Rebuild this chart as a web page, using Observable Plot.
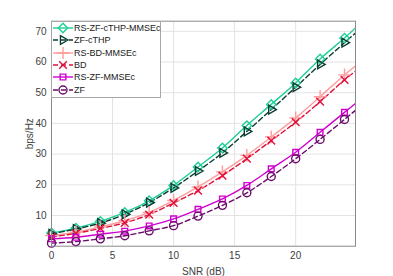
<!DOCTYPE html>
<html>
<head>
<meta charset="utf-8">
<script src="https://cdn.jsdelivr.net/npm/d3@7"></script>
<script src="https://cdn.jsdelivr.net/npm/@observablehq/plot@0.6"></script>
<style>
  html, body { margin: 0; padding: 0; background: #fff; }
  #wrap { position: relative; width: 393px; height: 276px; font-family: "Liberation Sans", Arial, sans-serif; }
  #legend { position: absolute; left: 51px; top: 20.5px; width: 110px; background: #fff; border: 1px solid #a8a8a8; box-sizing: border-box; padding: 0.5px 0 1px 0; }
  .row { display: flex; align-items: center; height: 12.3px; font-size: 9px; color: #1a1a1a; white-space: nowrap; }
  .row svg { flex: none; margin-right: 0px; }
</style>
</head>
<body>
<div id="wrap"></div>
<script>
// ---- data ----
const snr = [0, 2, 4, 6, 8, 10, 12, 14, 16, 18, 20, 22, 24, 25];
const rsZfCthpMmsec = [4.3, 5.9, 8.1, 11.0, 14.8, 19.8, 25.8, 32.0, 39.3, 46.2, 53.2, 61.0, 67.8, 71.5];
const zfCthp        = [4.0, 5.6, 7.5, 10.4, 14.2, 19.0, 24.5, 30.4, 37.4, 44.5, 51.8, 59.2, 66.3, 69.8];
const rsBdMmsec     = [3.5, 4.6, 6.3, 8.3, 11.0, 14.9, 19.3, 24.2, 29.6, 35.6, 41.8, 48.7, 55.8, 59.0];
const bd            = [3.0, 4.2, 5.8, 7.6, 10.3, 14.1, 18.1, 23.0, 28.5, 34.4, 40.4, 47.1, 54.2, 57.3];
const rsZfMmsec     = [2.4, 2.9, 3.9, 4.9, 6.6, 8.9, 12.0, 15.4, 19.8, 25.2, 30.6, 37.1, 43.6, 46.8];
const zf            = [1.0, 1.5, 2.4, 3.4, 5.0, 6.7, 9.8, 13.3, 17.4, 22.7, 28.5, 34.8, 41.3, 44.6];
const xTicks = [0, 5, 10, 15, 20];
const yTicks = [10, 20, 30, 40, 50, 60, 70];

const series = [
  {name: "RS-ZF-cTHP-MMSEc", values: rsZfCthpMmsec, color: "#1dcf95", dash: null, symbol: "diamond2", r: 4.2, rotate: 0},
  {name: "ZF-cTHP", values: zfCthp, color: "#0b3b32", dash: "5,3", symbol: "triangle2", r: 4.2, rotate: 90},
  {name: "RS-BD-MMSEc", values: rsBdMmsec, color: "#ff9c9c", dash: null, symbol: "plus", r: 4.2, rotate: 0},
  {name: "BD", values: bd, color: "#e0103c", dash: "5,3", symbol: "times", r: 3.6, rotate: 0},
  {name: "RS-ZF-MMSEc", values: rsZfMmsec, color: "#d000d0", dash: null, symbol: "square2", r: 3.6, rotate: 0},
  {name: "ZF", values: zf, color: "#6a0d6a", dash: "5,3", symbol: "circle", r: 4.0, rotate: 0}
];

const rows = series.map(s => snr.map((x, i) => ({x, y: s.values[i], s})));

const marks = [
  Plot.gridX(xTicks, {stroke: "#e3e3e3", strokeOpacity: 1}),
  Plot.gridY(yTicks, {stroke: "#e3e3e3", strokeOpacity: 1}),
  Plot.axisX(xTicks, {tickSize: 0, tickPadding: 6, fontSize: 10, color: "#404040", label: "SNR (dB)", labelAnchor: "center", labelArrow: "none", labelOffset: 29}),
  Plot.axisY(yTicks, {tickSize: 0, tickPadding: 5, fontSize: 10, color: "#404040", label: "bps/Hz", labelAnchor: "center", labelArrow: "none", labelOffset: 26}),
];
rows.forEach(data => {
  const s = data[0].s;
  marks.push(Plot.line(data, {x: "x", y: "y", stroke: s.color, strokeWidth: 1.4, strokeDasharray: s.dash, curve: "catmull-rom", clip: true}));
});
rows.forEach(data => {
  const s = data[0].s;
  marks.push(Plot.dot(data.filter(d => d.x <= 24), {x: "x", y: "y", symbol: () => s.symbol, stroke: s.color, fill: "none", strokeWidth: 1.4, r: s.r, rotate: s.rotate}));
});
marks.push(Plot.frame({stroke: "#8a8a8a", strokeWidth: 1}));

const chart = Plot.plot({
  width: 393,
  height: 276,
  marginLeft: 51,
  marginRight: 38,
  marginTop: 20.7,
  marginBottom: 30.3,
  style: {fontFamily: "Liberation Sans, Arial, sans-serif", background: "#fff"},
  x: {domain: [0, 24.9]},
  y: {domain: [0, 73.3]},
  symbol: {type: "identity"},
  marks
});
const wrap = document.getElementById("wrap");
wrap.appendChild(chart);

// ---- legend (HTML overlay) ----
const legend = document.createElement("div");
legend.id = "legend";
series.forEach(s => {
  const row = document.createElement("div");
  row.className = "row";
  const svg = d3.create("svg").attr("width", 22).attr("height", 12);
  svg.append("line").attr("x1", 1).attr("x2", 21).attr("y1", 6).attr("y2", 6)
    .attr("stroke", s.color).attr("stroke-width", 1.4).attr("stroke-dasharray", s.dash);
  const symMap = {diamond2: d3.symbolDiamond2, triangle2: d3.symbolTriangle2, plus: d3.symbolPlus, times: d3.symbolTimes, square2: d3.symbolSquare2, circle: d3.symbolCircle};
  svg.append("path").attr("d", d3.symbol(symMap[s.symbol], s.r * s.r * Math.PI)())
    .attr("transform", `translate(11,6) rotate(${s.rotate})`)
    .attr("fill", "none").attr("stroke", s.color).attr("stroke-width", 1.4);
  row.appendChild(svg.node());
  const t = document.createElement("span");
  t.textContent = s.name;
  row.appendChild(t);
  legend.appendChild(row);
});
wrap.appendChild(legend);
</script>
</body>
</html>
